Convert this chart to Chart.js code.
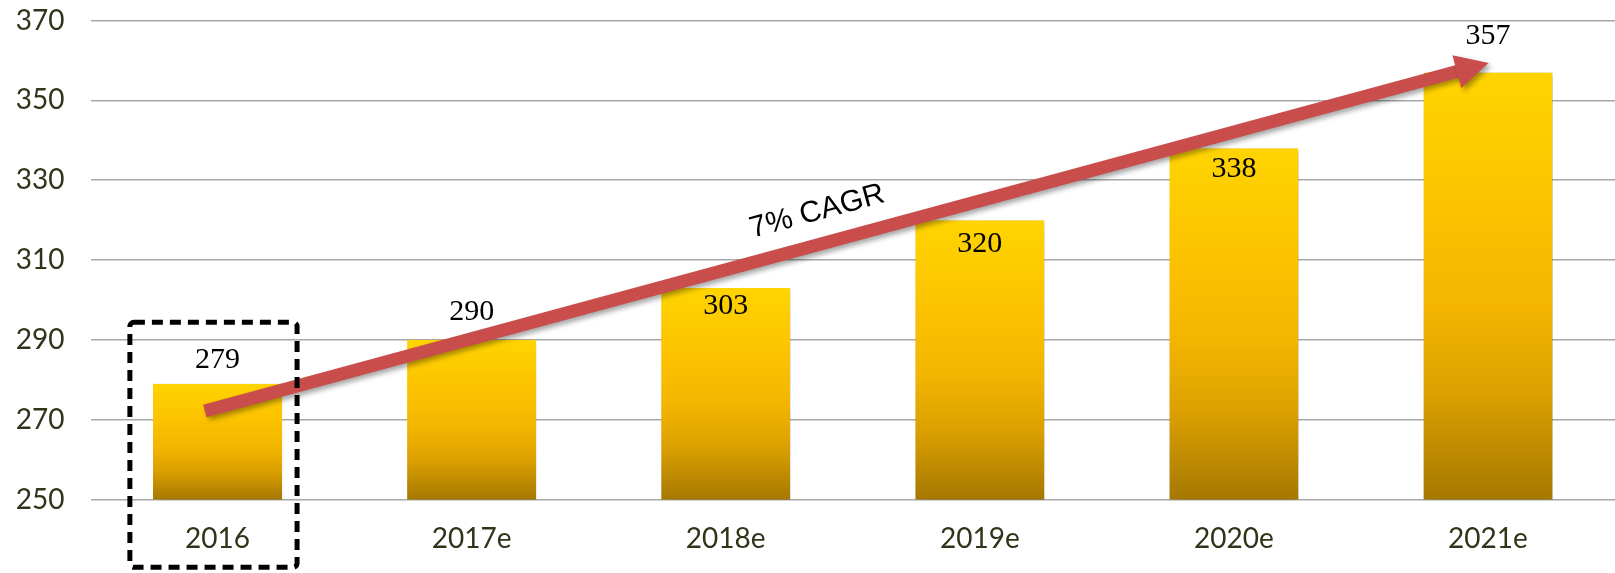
<!DOCTYPE html>
<html>
<head>
<meta charset="utf-8">
<script src="https://cdn.jsdelivr.net/npm/chart.js@4.4.0/dist/chart.umd.min.js"></script>
<style>
  body { margin: 0; background: #fff; }
  #wrap { width: 1615px; height: 573px; position: relative; }
</style>
</head>
<body>
<div id="wrap"><canvas id="c"></canvas></div>
<script>
// chart data
var years = ["2016", "2017e", "2018e", "2019e", "2020e", "2021e"];
var values = [279, 290, 303, 320, 338, 357];
var yTicks = [250, 270, 290, 310, 330, 350, 370];
var cagrText = "7% CAGR";

// where each value label sits relative to the bar top (px, negative = above)
var labelShift = [-24, -28, 18, 24, 21, -36];

var axisColor = "#33331a";

function barFill(c) {
    var chart = c.chart;
    if (!chart.chartArea || c.raw === undefined) return "#f5b800";
    var y = chart.scales.y;
    var top = y.getPixelForValue(c.raw);
    var bot = y.getPixelForValue(yTicks[0]);
    var g = chart.ctx.createLinearGradient(0, top, 0, bot);
    g.addColorStop(0, "#ffd400");
    g.addColorStop(0.3, "#fcc300");
    g.addColorStop(0.55, "#f3b500");
    g.addColorStop(0.75, "#dca000");
    g.addColorStop(1, "#a57800");
    return g;
}

// stop the axes from adding their own padding round the plot
function noPad(s) {
    s.paddingTop = 0;
    s.paddingBottom = 0;
    s.paddingLeft = 0;
    s.paddingRight = 0;
}

var extras = {
    id: "extras",
    beforeDatasetsDraw: function(chart) {
        var ctx = chart.ctx;
        ctx.save();
        ctx.shadowColor = "rgba(0,0,0,0.45)";
        ctx.shadowBlur = 9;
        ctx.shadowOffsetX = 5;
        ctx.shadowOffsetY = 2;
    },
    afterDatasetsDraw: function(chart) {
        var ctx = chart.ctx;
        ctx.restore();
        var x = chart.scales.x, y = chart.scales.y;
        var unit = x.getPixelForValue(1) - x.getPixelForValue(0);
        function px(i) { return x.getPixelForValue(0) + i * unit; }

        // CAGR arrow
        var x0 = px(-0.05), y0 = y.getPixelForValue(272.2);
        var x1 = px(5.003), y1 = y.getPixelForValue(359.4);
        var ang = Math.atan2(y1 - y0, x1 - x0);
        var headLen = 33, headW = 34;
        var bx = x1 - Math.cos(ang) * headLen, by = y1 - Math.sin(ang) * headLen;
        ctx.save();
        ctx.shadowColor = "rgba(0,0,0,0.35)";
        ctx.shadowBlur = 5;
        ctx.shadowOffsetX = 3;
        ctx.shadowOffsetY = 3;
        ctx.fillStyle = "#c84d4b";
        ctx.strokeStyle = "#c84d4b";
        ctx.lineWidth = 13;
        ctx.lineCap = "butt";
        ctx.beginPath();
        ctx.moveTo(x0, y0);
        ctx.lineTo(bx + Math.cos(ang) * 2, by + Math.sin(ang) * 2);
        ctx.stroke();
        ctx.beginPath();
        ctx.moveTo(x1, y1);
        ctx.lineTo(bx + Math.sin(ang) * headW / 2, by - Math.cos(ang) * headW / 2);
        ctx.lineTo(bx - Math.sin(ang) * headW / 2, by + Math.cos(ang) * headW / 2);
        ctx.closePath();
        ctx.fill();
        ctx.restore();

        // CAGR text
        ctx.save();
        ctx.translate(px(2.36), y.getPixelForValue(322.1));
        ctx.rotate(ang);
        ctx.fillStyle = "#000";
        ctx.font = "30px 'Liberation Sans', Arial, sans-serif";
        ctx.textAlign = "center";
        ctx.textBaseline = "middle";
        ctx.fillText(cagrText, 0, 0);
        ctx.restore();

        // value labels
        ctx.save();
        ctx.fillStyle = "#000";
        ctx.font = "30px 'Liberation Serif', 'DejaVu Serif', serif";
        ctx.textAlign = "center";
        ctx.textBaseline = "middle";
        var meta = chart.getDatasetMeta(0);
        meta.data.forEach(function(bar, i) {
            ctx.fillText(String(values[i]), bar.x, bar.y + labelShift[i]);
        });
        ctx.restore();

        // dashed highlight box around 2016
        var l = px(-0.345), r = px(0.313);
        var t = y.getPixelForValue(294.4), b = y.getPixelForValue(233);
        ctx.save();
        ctx.strokeStyle = "#000";
        ctx.lineWidth = 5;
        ctx.setLineDash([11, 7]);
        ctx.beginPath();
        ctx.roundRect(l, t, r - l, b - t, 4);
        ctx.stroke();
        ctx.restore();
    }
};

new Chart(document.getElementById("c"), {
    type: "bar",
    data: {
        labels: years,
        datasets: [{
            data: values,
            backgroundColor: barFill,
            borderColor: "#6b5000",
            borderWidth: { top: 0, left: 0, right: 0, bottom: 2 },
            borderSkipped: false,
            categoryPercentage: 1,
            barPercentage: 0.508
        }]
    },
    options: {
        responsive: true,
        maintainAspectRatio: false,
        animation: false,
        layout: {
            padding: { left: 12, right: 0, top: 20.6, bottom: 0 }
        },
        plugins: {
            legend: { display: false },
            tooltip: { enabled: false }
        },
        scales: {
            x: {
                afterFit: function(s) { noPad(s); s.height = 73.5; },
                grid: { display: false, drawTicks: false },
                border: { display: false },
                ticks: {
                    color: axisColor,
                    padding: 23,
                    font: { family: "Lato, 'Open Sans', sans-serif", size: 28 }
                }
            },
            y: {
                min: yTicks[0],
                max: yTicks[yTicks.length - 1],
                afterBuildTicks: function(s) {
                    s.ticks = yTicks.map(function(v) { return { value: v }; });
                },
                afterFit: function(s) { noPad(s); s.width = 78.5; },
                grid: { color: "#a8a8a8", lineWidth: 1.6, drawTicks: false },
                border: { display: false },
                ticks: {
                    color: axisColor,
                    padding: 26,
                    font: { family: "Lato, 'Open Sans', sans-serif", size: 28 }
                }
            }
        }
    },
    plugins: [extras]
});
</script>
</body>
</html>
